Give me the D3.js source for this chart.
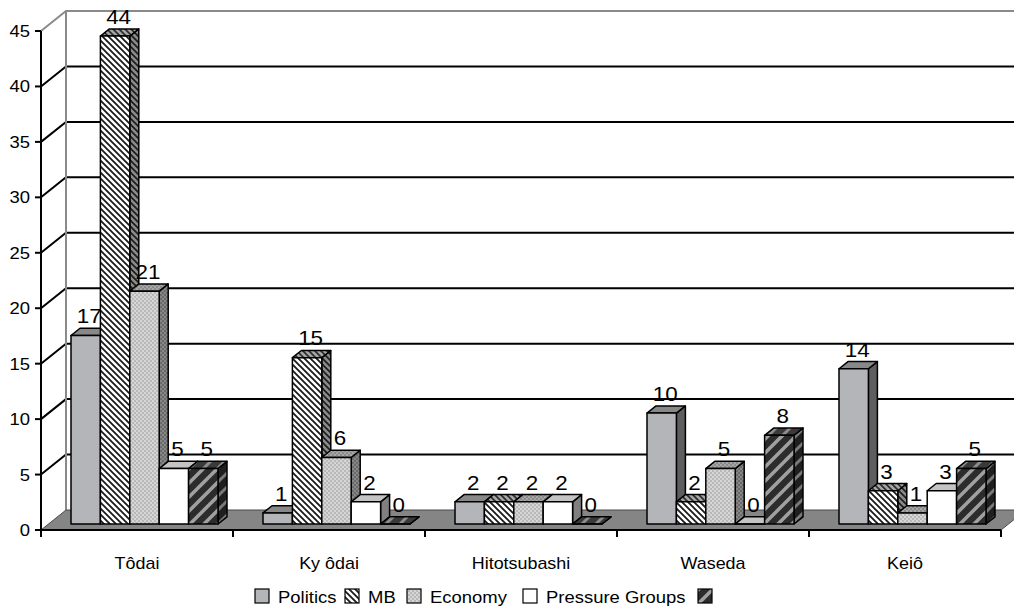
<!DOCTYPE html>
<html>
<head>
<meta charset="utf-8">
<script src="https://cdn.jsdelivr.net/npm/d3@7"></script>
<style>
  html, body { margin: 0; padding: 0; background: #fff; }
  svg { display: block; }
  text { font-family: "Liberation Sans", Arial, sans-serif; fill: #000; }
</style>
</head>
<body>
<svg id="chart" width="1014" height="613"></svg>
<script>
// Universities and research fields
const categories = ["Tôdai", "Ky ôdai", "Hitotsubashi", "Waseda", "Keiô"];
const seriesNames = ["Politics", "MB", "Economy", "Pressure Groups", ""];
const politics = [17, 1, 2, 10, 14];
const mb = [44, 15, 2, 2, 3];
const economy = [21, 6, 2, 5, 1];
const pressureGroups = [5, 2, 2, 0, 3];
const unnamed = [5, 0, 0, 8, 5];
const yTicks = [0, 5, 10, 15, 20, 25, 30, 35, 40, 45];

const seriesValues = [politics, mb, economy, pressureGroups, unnamed];

const W = 1014, H = 613;
const svg = d3.select("#chart");
const defs = svg.append("defs");

// Oblique projection: depth z in [0,1] shifts right and up
const DEPTH_X = 25, DEPTH_Y = -20;
const x = d3.scaleBand().domain(categories).range([41, 1001]).padding(0);
const y = d3.scaleLinear().domain([0, 45]).range([530, 31]);
const xInner = d3.scaleBand().domain(d3.range(seriesNames.length))
  .range([22.5, x.bandwidth() - 22.5]).padding(0);
const P = (px, v, z) => [px + DEPTH_X * z, y(v) + DEPTH_Y * z];
const Z0 = 0.3, Z1 = 0.66;
const STRETCH = 1.12;

// ---------- fill patterns ----------
function hatchPattern(id, bg, fg, size, width, dir) {
  const p = defs.append("pattern").attr("id", id)
    .attr("patternUnits", "userSpaceOnUse").attr("width", size).attr("height", size);
  p.append("rect").attr("width", size).attr("height", size).attr("fill", bg);
  const s = size;
  if (dir === "back") {
    p.append("path").attr("d", `M${-1},${-1} L${s + 1},${s + 1} M${-1},${s - 1} L1,${s + 1} M${s - 1},-1 L${s + 1},1`)
      .attr("stroke", fg).attr("stroke-width", width);
  } else {
    p.append("path").attr("d", `M-1,${s + 1} L${s + 1},-1 M-1,1 L1,-1 M${s - 1},${s + 1} L${s + 1},${s - 1}`)
      .attr("stroke", fg).attr("stroke-width", width);
  }
}
function dotPattern(id, bg, fg) {
  const p = defs.append("pattern").attr("id", id)
    .attr("patternUnits", "userSpaceOnUse").attr("width", 4).attr("height", 4);
  p.append("rect").attr("width", 4).attr("height", 4).attr("fill", bg);
  p.append("path").attr("d", "M1,0 L2,1 L1,2 L0,1 Z M3,2 L4,3 L3,4 L2,3 Z").attr("fill", fg);
}

hatchPattern("mbFront", "#ffffff", "#1a1a1a", 6, 1.8, "back");
hatchPattern("mbSide", "#8a8a8a", "#1a1a1a", 6, 1.6, "back");
hatchPattern("mbTop", "#a6a6a6", "#2a2a2a", 6, 1.6, "back");
dotPattern("ecoFront", "#b8b8b8", "#f4f4f4");
dotPattern("ecoSide", "#6a6a6a", "#a4a4a4");
dotPattern("ecoTop", "#8a8a8a", "#c4c4c4");
hatchPattern("unFront", "#2c2c2c", "#a0a0a0", 14, 3.5, "fwd");
hatchPattern("unSide", "#1f1f1f", "#7a7a7a", 14, 3, "fwd");
hatchPattern("unTop", "#3a3a3a", "#8c8c8c", 14, 3, "fwd");

const faceFills = [
  { front: "#b4b5b9", side: "#5e5e5e", top: "#888888" },
  { front: "url(#mbFront)", side: "url(#mbSide)", top: "url(#mbTop)" },
  { front: "url(#ecoFront)", side: "url(#ecoSide)", top: "url(#ecoTop)" },
  { front: "#ffffff", side: "#808080", top: "#c4c4c4" },
  { front: "url(#unFront)", side: "url(#unSide)", top: "url(#unTop)" }
];

// ---------- walls, floor, gridlines ----------
const walls = svg.append("g");
const right = W + 40;
walls.selectAll("path.grid").data(yTicks.filter(t => t > 0 && t < 45)).join("path")
  .attr("class", "grid")
  .attr("d", t => {
    const a = P(41, t, 0), b = P(41, t, 1);
    return `M${a[0]},${a[1]} L${b[0]},${b[1]} L${right},${b[1]}`;
  })
  .attr("fill", "none").attr("stroke", "#000").attr("stroke-width", 2);
{
  const a = P(41, 45, 0), b = P(41, 45, 1), c = P(41, 0, 1);
  walls.append("path")
    .attr("d", `M${a[0]},${a[1]} L${b[0]},${b[1]} L${right},${b[1]} M${b[0]},${b[1]} L${c[0]},${c[1]}`)
    .attr("fill", "none").attr("stroke", "#8a8a8a").attr("stroke-width", 2);
}
{
  const pts = [P(41, 0, 0), P(1001, 0, 0), P(1001, 0, 1), P(41, 0, 1)];
  walls.append("path").attr("d", "M" + pts.join("L") + "Z")
    .attr("fill", "#858585").attr("stroke", "#4a4a4a").attr("stroke-width", 1);
}

// ---------- bars ----------
const barsG = svg.append("g");
const labels = [];
categories.forEach((cat, ci) => {
  seriesValues.forEach((vals, si) => {
    const v = vals[ci];
    const x0 = x(cat) + xInner(si);
    const x1 = x0 + xInner.bandwidth();
    const f = faceFills[si];
    const poly = pts => "M" + pts.map(p => p.join(",")).join("L") + "Z";
    const g = barsG.append("g").attr("stroke", "#000").attr("stroke-width", 1.5).attr("stroke-linejoin", "round");
    g.append("path").attr("d", poly([P(x1, 0, Z0), P(x1, 0, Z1), P(x1, v, Z1), P(x1, v, Z0)])).attr("fill", f.side);
    g.append("path").attr("d", poly([P(x0, v, Z0), P(x1, v, Z0), P(x1, v, Z1), P(x0, v, Z1)])).attr("fill", f.top);
    g.append("path").attr("d", poly([P(x0, 0, Z0), P(x1, 0, Z0), P(x1, v, Z0), P(x0, v, Z0)])).attr("fill", f.front);
    const top = P((x0 + x1) / 2, v, (Z0 + Z1) / 2);
    labels.push({ x: top[0] - 1, y: P(x0, v, Z1)[1] - 5, text: String(v) });
  });
});

svg.append("g").selectAll("text").data(labels).join("text")
  .attr("transform", d => `translate(${d.x},${d.y}) scale(${STRETCH},1)`)
  .attr("text-anchor", "middle").attr("font-size", 20).text(d => d.text);

// ---------- axes ----------
const axes = svg.append("g");
axes.append("line").attr("x1", 41).attr("x2", 41).attr("y1", y(45)).attr("y2", y(0))
  .attr("stroke", "#000").attr("stroke-width", 2);
axes.selectAll("line.ytick").data(yTicks).join("line").attr("class", "ytick")
  .attr("x1", 35).attr("x2", 41).attr("y1", d => y(d)).attr("y2", d => y(d))
  .attr("stroke", "#000").attr("stroke-width", 2);
axes.selectAll("text.ylab").data(yTicks).join("text").attr("class", "ylab")
  .attr("transform", d => `translate(30,${y(d) + 6}) scale(${STRETCH},1)`)
  .attr("text-anchor", "end").attr("font-size", 16.5).text(d => d);
axes.append("line").attr("x1", 41).attr("x2", 1001).attr("y1", y(0)).attr("y2", y(0))
  .attr("stroke", "#000").attr("stroke-width", 2);
const catTicks = categories.map(c => x(c)).concat([x.range()[1]]);
axes.selectAll("line.xtick").data(catTicks).join("line").attr("class", "xtick")
  .attr("x1", d => d).attr("x2", d => d).attr("y1", y(0)).attr("y2", y(0) + 7)
  .attr("stroke", "#000").attr("stroke-width", 2);
axes.selectAll("text.xlab").data(categories).join("text").attr("class", "xlab")
  .attr("transform", d => `translate(${x(d) + x.bandwidth() / 2},569) scale(${STRETCH},1)`)
  .attr("text-anchor", "middle").attr("font-size", 16).text(d => d);

// ---------- legend ----------
const legend = svg.append("g");
const legendKeyX = [255, 345, 407, 523, 698];
seriesNames.forEach((name, si) => {
  const lx = legendKeyX[si];
  legend.append("rect").attr("x", lx).attr("y", 589).attr("width", 14).attr("height", 14)
    .attr("fill", faceFills[si].front).attr("stroke", "#000").attr("stroke-width", 1.2);
  legend.append("text")
    .attr("transform", `translate(${lx + 23},603) scale(${STRETCH},1)`)
    .attr("font-size", 16.5).text(name);
});
</script>
</body>
</html>
